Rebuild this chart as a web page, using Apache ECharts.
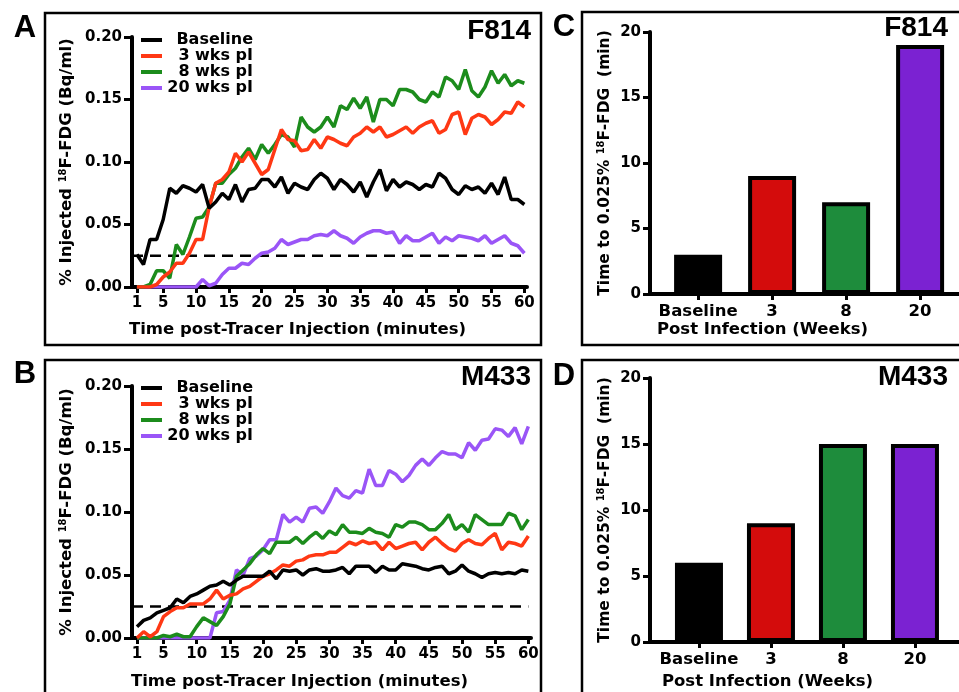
<!DOCTYPE html>
<html>
<head>
<meta charset="utf-8">
<script src="https://cdn.jsdelivr.net/npm/echarts@6/dist/echarts.min.js"></script>
<style>html,body{margin:0;padding:0;background:#fff;}#c{width:959px;height:692px;}</style>
</head>
<body>
<div id="c"></div>
<script>
// ---------- data ----------
const timeMin = [1,2,3,4,5,6,7,8,9,10,11,12,13,14,15,16,17,18,19,20,21,22,23,24,25,26,27,28,29,30,
  31,32,33,34,35,36,37,38,39,40,41,42,43,44,45,46,47,48,49,50,51,52,53,54,55,56,57,58,59,60];
const xTickLabels = [1,5,10,15,20,25,30,35,40,45,50,55,60];
const seriesNames = ['Baseline', '3 wks pI', '8 wks pI', '20 wks pI'];
const threshold = 0.025;
const thresholdSpan = [0.25, 60];

// Panel A (F814)
const A_base = [0.026,0.018,0.038,0.038,0.054,0.079,0.075,0.081,0.079,0.076,0.082,0.063,0.068,0.075,0.070,0.082,0.068,0.078,0.079,0.086,0.086,0.080,0.088,0.075,0.083,0.080,0.078,0.086,0.091,0.087,
  0.078,0.086,0.082,0.076,0.084,0.072,0.084,0.094,0.077,0.086,0.080,0.084,0.082,0.078,0.082,0.080,0.091,0.087,0.078,0.074,0.081,0.078,0.080,0.075,0.083,0.074,0.088,0.070,0.070,0.066];
const A_3wk = [0,0,0,0.002,0.008,0.012,0.019,0.019,0.027,0.038,0.038,0.064,0.083,0.086,0.092,0.107,0.100,0.108,0.099,0.090,0.094,0.110,0.126,0.118,0.117,0.109,0.110,0.118,0.111,0.120,
  0.118,0.115,0.113,0.120,0.123,0.128,0.124,0.128,0.120,0.122,0.125,0.128,0.123,0.128,0.131,0.133,0.123,0.126,0.138,0.140,0.122,0.135,0.138,0.136,0.130,0.134,0.140,0.139,0.148,0.144];
const A_8wk = [0,0,0.002,0.013,0.013,0.007,0.034,0.026,0.040,0.055,0.056,0.064,0.083,0.083,0.090,0.095,0.104,0.111,0.102,0.114,0.107,0.114,0.122,0.120,0.112,0.136,0.128,0.124,0.128,0.136,
  0.128,0.145,0.142,0.151,0.143,0.152,0.132,0.150,0.150,0.145,0.158,0.158,0.156,0.150,0.148,0.156,0.152,0.168,0.165,0.158,0.174,0.157,0.152,0.160,0.173,0.163,0.170,0.161,0.165,0.163];
const A_20wk = [0,0,0,0,0,0,0,0,0,0,0.006,0.001,0.003,0.010,0.015,0.015,0.019,0.018,0.023,0.027,0.028,0.031,0.038,0.034,0.036,0.038,0.038,0.041,0.042,0.041,
  0.045,0.041,0.039,0.035,0.040,0.043,0.045,0.045,0.043,0.044,0.035,0.041,0.037,0.037,0.040,0.043,0.035,0.040,0.037,0.041,0.040,0.039,0.037,0.041,0.035,0.038,0.041,0.035,0.033,0.027];

// Panel B (M433)
const B_base = [0.009,0.014,0.016,0.020,0.022,0.024,0.031,0.028,0.033,0.035,0.038,0.041,0.042,0.045,0.042,0.046,0.049,0.049,0.049,0.049,0.053,0.047,0.054,0.053,0.054,0.050,0.054,0.055,0.053,0.053,
  0.054,0.056,0.051,0.057,0.057,0.057,0.052,0.057,0.054,0.054,0.059,0.058,0.057,0.055,0.054,0.056,0.057,0.051,0.053,0.058,0.053,0.051,0.048,0.051,0.052,0.051,0.052,0.051,0.054,0.053];
const B_3wk = [0,0.005,0.001,0.005,0.017,0.021,0.024,0.024,0.027,0.027,0.027,0.031,0.038,0.031,0.034,0.035,0.039,0.041,0.045,0.049,0.051,0.054,0.058,0.057,0.061,0.062,0.065,0.066,0.066,0.068,
  0.068,0.072,0.076,0.074,0.077,0.075,0.076,0.070,0.076,0.071,0.073,0.075,0.076,0.070,0.076,0.080,0.075,0.071,0.069,0.075,0.078,0.075,0.074,0.079,0.083,0.070,0.076,0.075,0.073,0.081];
const B_8wk = [0,0,0,0,0.002,0.001,0.003,0.001,0.001,0.009,0.016,0.013,0.010,0.017,0.027,0.049,0.054,0.059,0.066,0.071,0.067,0.076,0.076,0.076,0.080,0.075,0.080,0.084,0.079,0.085,
  0.082,0.090,0.084,0.084,0.083,0.087,0.084,0.083,0.080,0.090,0.088,0.092,0.092,0.090,0.086,0.086,0.091,0.098,0.086,0.090,0.084,0.098,0.094,0.090,0.090,0.090,0.099,0.097,0.086,0.094];
const B_20wk = [0,0,0,0,0,0,0,0,0,0,0,0,0.020,0.021,0.030,0.054,0.050,0.063,0.065,0.070,0.078,0.078,0.098,0.092,0.096,0.092,0.103,0.104,0.099,0.108,
  0.119,0.113,0.111,0.117,0.115,0.134,0.121,0.121,0.133,0.130,0.124,0.129,0.137,0.142,0.137,0.143,0.148,0.146,0.146,0.143,0.155,0.149,0.157,0.158,0.166,0.165,0.160,0.167,0.154,0.168];

// Bar panels
const barCategories = ['Baseline', '3', '8', '20'];
const C_values = [3, 9, 7, 19];
const D_values = [6, 9, 15, 15];

// ---------- styling ----------
const lineColors = ['#000000', '#ff3814', '#1c8c1c', '#9a55f7'];
const barColors = ['#000000', '#d40c0c', '#1e8c3c', '#7b22d2'];
const FONT = 'DejaVu Sans';
const txt = (size) => ({ color: '#000', fontFamily: FONT, fontWeight: 'bold', fontSize: size });
const supStyle = { fontFamily: FONT, fontWeight: 'bold', fontSize: 10, color: '#000', verticalAlign: 'top', lineHeight: 18 };

function lineXAxis(gi, nameGap, padRight) {
  return {
    gridIndex: gi, type: 'value', min: 0.25, max: 60.4,
    axisLine: { onZero: false, lineStyle: { color: '#000', width: 4 } },
    axisTick: { customValues: xTickLabels, length: 6, lineStyle: { color: '#000', width: 3 } },
    axisLabel: Object.assign({ customValues: xTickLabels, margin: 9 }, txt(15)),
    splitLine: { show: false },
    name: 'Time post-Tracer Injection (minutes)', nameLocation: 'middle', nameGap: nameGap,
    nameTextStyle: Object.assign({ padding: [0, padRight, 0, 0] }, txt(16.5))
  };
}
function lineYAxis(gi) {
  return {
    gridIndex: gi, type: 'value', min: 0, max: 0.2, interval: 0.05,
    axisLine: { show: true, onZero: false, lineStyle: { color: '#000', width: 4 } },
    axisTick: { show: true, length: 8, lineStyle: { color: '#000', width: 3 } },
    axisLabel: Object.assign({ margin: 10, formatter: v => v.toFixed(2) }, txt(15)),
    splitLine: { show: false },
    name: '% Injected {s|18}F-FDG (Bq/ml)', nameLocation: 'middle', nameGap: 56,
    nameTextStyle: Object.assign({ rich: { s: supStyle } }, txt(16.5))
  };
}
function barXAxis(gi, min, max, nameGap, padRight) {
  return {
    gridIndex: gi, type: 'value', min: min, max: max,
    axisLine: { onZero: false, lineStyle: { color: '#000', width: 4 } },
    axisTick: { customValues: [0, 1, 2, 3], length: 6, lineStyle: { color: '#000', width: 3 } },
    axisLabel: Object.assign({ customValues: [0, 1, 2, 3], margin: 9, formatter: v => barCategories[Math.round(v)] }, txt(16.5)),
    splitLine: { show: false },
    name: 'Post Infection (Weeks)', nameLocation: 'middle', nameGap: nameGap,
    nameTextStyle: Object.assign({ padding: [0, padRight, 0, 0] }, txt(16.5))
  };
}
function barYAxis(gi) {
  return {
    gridIndex: gi, type: 'value', min: 0, max: 20, interval: 5,
    axisLine: { show: true, onZero: false, lineStyle: { color: '#000', width: 4 } },
    axisTick: { show: true, length: 7, lineStyle: { color: '#000', width: 3 } },
    axisLabel: Object.assign({ margin: 9 }, txt(15)),
    splitLine: { show: false },
    name: 'Time to 0.025% {s|18}F-FDG  (min)', nameLocation: 'middle', nameGap: 36,
    nameTextStyle: Object.assign({ rich: { s: supStyle } }, txt(15.5))
  };
}
function lineSeries(name, idx, gi, values) {
  return {
    name: name, type: 'line', xAxisIndex: gi, yAxisIndex: gi,
    data: values.map((v, i) => [timeMin[i], v]),
    showSymbol: false, symbol: 'none',
    lineStyle: { color: lineColors[idx], width: 3.5 }, itemStyle: { color: lineColors[idx] },
    z: 3
  };
}
function thresholdSeries(gi) {
  return {
    name: 'threshold', type: 'line', xAxisIndex: gi, yAxisIndex: gi, silent: true,
    data: thresholdSpan.map(t => [t, threshold]),
    showSymbol: false, symbol: 'none',
    lineStyle: { color: '#000', type: [11, 7], width: 2.5 }, z: 2
  };
}
function barSeries(gi, values, name) {
  return {
    name: name, type: 'bar', xAxisIndex: gi, yAxisIndex: gi, barWidth: 48,
    data: values.map((v, i) => ({ value: [i, v], itemStyle: { color: barColors[i], borderColor: '#000', borderWidth: 4 } }))
  };
}
function legendAt(top) {
  return {
    orient: 'vertical', left: 141, top: top, itemGap: 0, itemWidth: 21, itemHeight: 4, icon: 'rect',
    padding: 0, selectedMode: false, data: seriesNames,
    formatter: n => '{a|' + n + '}',
    textStyle: { rich: { a: { width: 86, align: 'right', fontFamily: FONT, fontWeight: 'bold', fontSize: 16, lineHeight: 16.3, color: '#000' } } }
  };
}
const letter = (t, x, y) => ({ type: 'text', x: x, y: y, style: { text: t, fill: '#000', font: 'bold 31px "Liberation Sans"', textAlign: 'center', textVerticalAlign: 'middle' } });
const title = (t, x, y) => ({ type: 'text', x: x, y: y, style: { text: t, fill: '#000', font: 'bold 28px "Liberation Sans"', textAlign: 'right', textVerticalAlign: 'middle' } });
const frame = (x, y, w, h) => ({ type: 'rect', shape: { x: x, y: y, width: w, height: h }, style: { fill: 'none', stroke: '#000', lineWidth: 2.5 }, z: 100 });

const option = {
  animation: false,
  backgroundColor: '#fff',
  grid: [
    { left: 132, top: 37, width: 395, height: 250 },
    { left: 132, top: 386, width: 399, height: 252 },
    { left: 650, top: 32, width: 309, height: 262 },
    { left: 650, top: 378, width: 309, height: 264 }
  ],
  xAxis: [
    lineXAxis(0, 34, 64),
    lineXAxis(1, 35, 64),
    barXAxis(2, -0.65, -0.65 + 309 / 74, 27, 84),
    barXAxis(3, -0.68, -0.68 + 309 / 72, 31, 74)
  ],
  yAxis: [lineYAxis(0), lineYAxis(1), barYAxis(2), barYAxis(3)],
  legend: [legendAt(32), legendAt(380)],
  series: [
    thresholdSeries(0),
    lineSeries(seriesNames[3], 3, 0, A_20wk),
    lineSeries(seriesNames[2], 2, 0, A_8wk),
    lineSeries(seriesNames[1], 1, 0, A_3wk),
    lineSeries(seriesNames[0], 0, 0, A_base),
    thresholdSeries(1),
    lineSeries(seriesNames[3], 3, 1, B_20wk),
    lineSeries(seriesNames[2], 2, 1, B_8wk),
    lineSeries(seriesNames[1], 1, 1, B_3wk),
    lineSeries(seriesNames[0], 0, 1, B_base),
    barSeries(2, C_values, 'F814 time'),
    barSeries(3, D_values, 'M433 time')
  ],
  graphic: [
    frame(45, 13, 496, 332), frame(45, 360, 496, 345),
    frame(582, 12, 390, 333), frame(582, 360, 390, 345),
    letter('A', 25, 28), letter('B', 25, 374), letter('C', 564, 27), letter('D', 564, 376),
    title('F814', 531, 31), title('M433', 531, 377), title('F814', 948, 28), title('M433', 948, 377)
  ]
};
const chart = echarts.init(document.getElementById('c'), null, { renderer: 'canvas' });
chart.setOption(option);
</script>
</body>
</html>
